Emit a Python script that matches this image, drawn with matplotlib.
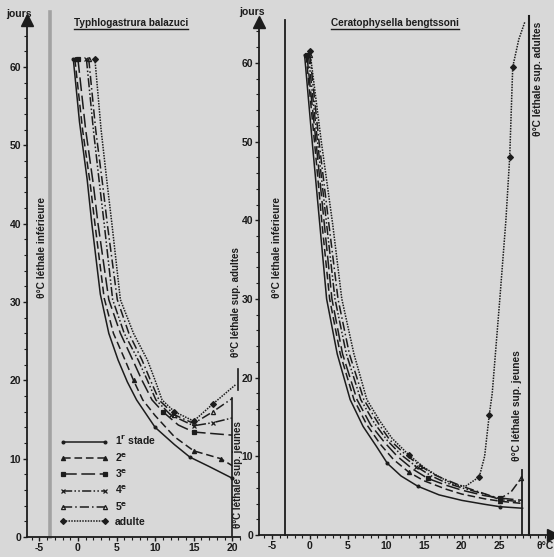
import matplotlib
matplotlib.use('Agg')
from matplotlib import pyplot as plt
from matplotlib.lines import Line2D
from matplotlib.ticker import MultipleLocator

plt.rcParams['font.family'] = ['Liberation Sans', 'DejaVu Sans']
plt.rcParams['font.weight'] = 'bold'
plt.rcParams['mathtext.default'] = 'bf'

W, H = 554, 557
BG = '#d8d8d8'
INK = '#1c1c1c'

stades = ['1$^{\\rm r}$ stade', '2$^{\\rm e}$', '3$^{\\rm e}$', '4$^{\\rm e}$', '5$^{\\rm e}$', 'adulte']

# Typhlogastrura balazuci : durée (jours) en fonction de la température (°C)
typh_t1 = [-0.6, 0.2, 1.2, 1.8, 2.9, 4.0, 5.2, 6.4, 7.6, 10.0, 12.5, 14.5, 17.0, 20.0]
typh_d1 = [61, 53, 45.6, 40, 31, 26, 22.6, 19.8, 17.5, 14.0, 11.8, 10.2, 9.0, 7.5]
typh_t2 = [-0.4, 0.6, 1.6, 2.2, 3.4, 4.6, 6.1, 7.2, 8.4, 10.0, 12.5, 15.0, 18.5, 20.0]
typh_d2 = [61, 52, 45, 40, 30.5, 26, 22.6, 20, 17.5, 15.5, 12.8, 11.0, 10.0, 9.1]
typh_t3 = [0.0, 1.0, 2.0, 2.6, 4.0, 5.5, 7.1, 8.3, 9.6, 11.0, 13.0, 15.0, 17.5, 20.0]
typh_d3 = [61, 52, 45, 40, 30.3, 26, 22.6, 20, 17.5, 16.0, 14.3, 13.4, 13.2, 13.0]
typh_t4 = [1.1, 2.0, 2.8, 3.4, 4.5, 6.0, 7.8, 9.0, 10.1, 12.0, 15.0, 17.5, 20.0]
typh_d4 = [61, 52, 45, 40, 30.3, 26, 22.6, 20, 17.5, 15.6, 14.2, 14.6, 15.2]
typh_t5 = [1.4, 2.3, 3.2, 3.8, 5.1, 6.6, 8.3, 9.4, 10.5, 12.5, 15.0, 17.5, 20.0]
typh_d5 = [61, 52, 45, 40, 30.3, 26, 22.6, 20, 17.5, 15.6, 14.5, 16.0, 17.7]
typh_ta = [2.2, 3.0, 3.8, 4.4, 5.5, 7.2, 9.0, 10.0, 10.9, 12.5, 15.0, 17.5, 20.5]
typh_da = [61, 52, 45, 40, 30.3, 26, 22.6, 20, 17.5, 16.0, 14.8, 17.0, 19.5]

# Ceratophysella bengtssoni
cera_t1 = [-0.7, 0.3, 1.3, 2.2, 3.6, 5.3, 7.0, 8.8, 10.2, 12.0, 14.2, 17.0, 20.0, 23.0, 25.0, 28.0]
cera_d1 = [61, 50, 39.5, 30, 23, 17.2, 13.8, 11.2, 9.1, 7.5, 6.2, 5.1, 4.4, 3.9, 3.6, 3.4]
cera_t2 = [-0.5, 0.6, 1.6, 2.6, 4.0, 5.8, 7.5, 9.3, 11.0, 13.0, 15.0, 18.0, 20.0, 23.0, 25.0, 28.0]
cera_d2 = [61, 50, 39.5, 30, 23, 17.2, 14, 11.5, 9.6, 8.0, 6.9, 5.8, 5.2, 4.6, 4.3, 4.0]
cera_t3 = [-0.4, 0.8, 1.9, 2.9, 4.3, 6.2, 8.0, 9.8, 11.5, 13.5, 15.5, 18.0, 20.0, 23.0, 25.0, 28.0]
cera_d3 = [61, 50, 39.5, 30, 23, 17.2, 14, 11.8, 10.0, 8.4, 7.2, 6.3, 5.7, 5.0, 4.7, 4.4]
cera_t4 = [-0.2, 1.0, 2.2, 3.3, 4.8, 6.7, 8.5, 10.2, 12.0, 14.0, 16.0, 18.0, 20.0, 23.0, 25.0, 28.0]
cera_d4 = [61, 50, 39.5, 30, 23, 17.2, 14.2, 12.0, 10.2, 8.7, 7.5, 6.6, 6.0, 5.2, 4.5, 4.2]
cera_t5 = [0.0, 1.2, 2.5, 3.7, 5.2, 7.1, 9.0, 10.5, 12.5, 14.5, 16.5, 18.5, 20.0, 22.5, 25.0, 26.5, 27.8]
cera_d5 = [61, 50, 39.5, 30, 23, 17.2, 14.2, 12.1, 10.3, 8.8, 7.6, 6.8, 6.2, 5.4, 4.6, 5.5, 7.2]
cera_ta = [0.0, 1.5, 3.0, 4.2, 5.8, 7.5, 9.2, 10.8, 13.0, 15.0, 17.0, 19.0, 20.5, 22.3, 23.0,
           23.6, 24.0, 25.0, 25.8, 26.3, 26.7, 27.5, 28.4]
cera_da = [61.5, 50, 39.5, 30, 23, 17.2, 14.5, 12.3, 10.2, 8.6, 7.4, 6.4, 6.2, 7.4, 10.0,
           15.2, 18.0, 30.0, 40.0, 48.0, 59.5, 63.0, 65.5]

styles = [
    dict(ls='-', marker='.', ms=4),
    dict(ls=(0, (5, 2.5)), marker='^', ms=3),
    dict(ls=(0, (9, 3)), marker='s', ms=2.5),
    dict(ls=(0, (6, 1.5, 1, 1.5, 1, 1.5)), marker='x', ms=3),
    dict(ls=(0, (6, 2, 1, 2)), marker='^', ms=3, mfc='none'),
    dict(ls=(0, (1, 0.8)), marker='D', ms=3),
]


def px_axes(fig, x0, x1, y0, y1):
    # rectangle given in pixels from the top-left corner
    return fig.add_axes([x0 / W, 1 - y1 / H, (x1 - x0) / W, (y1 - y0) / H])


def setup(ax, xlim, ylim, xticks, xlabels):
    ax.set_facecolor('none')
    ax.set_xlim(*xlim)
    ax.set_ylim(*ylim)
    for s in ['top', 'right']:
        ax.spines[s].set_visible(False)
    for s in ['left', 'bottom']:
        ax.spines[s].set_color(INK)
        ax.spines[s].set_linewidth(1.3)
    ax.set_xticks(xticks, xlabels)
    ax.set_yticks(list(range(0, 61, 10)))
    ax.xaxis.set_minor_locator(MultipleLocator(1))
    ax.yaxis.set_minor_locator(MultipleLocator(2))
    ax.tick_params(which='major', length=3.2, width=1, color=INK, labelsize=7.5, labelcolor=INK, pad=1.2)
    ax.tick_params(which='minor', length=2.2, width=0.8, color=INK)
    ax.plot(0, 1, marker='^', ms=8, color=INK, transform=ax.transAxes, clip_on=False)


def curves(ax, data, marks):
    for (t, d), st, mk in zip(data, styles, marks):
        ax.plot(t, d, color=INK, lw=1.1, ls=st['ls'])
        ax.plot([t[i] for i in mk], [d[i] for i in mk], ls='none', color=INK,
                marker=st['marker'], ms=st['ms'], mfc=st.get('mfc', INK), mew=0.9)


def vtext(ax, x, y, s, size=7.3):
    ax.text(x, y, s, rotation=90, ha='center', va='center', fontsize=size, color=INK)


def ptext(x, y, s, size):
    return fig.text(x / W, 1 - y / H, s, ha='center', va='center', fontsize=size, color=INK)


fig = plt.figure(figsize=(W / 100, H / 100), dpi=100, facecolor=BG)

# panneau gauche
ax1 = px_axes(fig, 27, 240, 20, 537)
setup(ax1, (-6.6, 21.0), (0, 66), list(range(-5, 21, 5)), [str(v) for v in range(-5, 21, 5)])
curves(ax1, [(typh_t1, typh_d1), (typh_t2, typh_d2), (typh_t3, typh_d3),
             (typh_t4, typh_d4), (typh_t5, typh_d5), (typh_ta, typh_da)],
       [[0, 9, 11, 13], [0, 7, 11, 12], [0, 9, 11], [0, 9, 10, 11], [0, 9, 10, 11], [0, 9, 10, 11]])
ax1.plot([-3.6, -3.6], [0, 67], color='#a2a2a2', lw=2.6, clip_on=False)
vtext(ax1, -4.6, 37, 'θ°C léthale inférieure')
ax1.plot([20, 20], [0, 17.8], color=INK, lw=1.2)
ax1.plot([20.8, 20.8], [18.8, 21.5], color=INK, lw=1.2, clip_on=False)
vtext(ax1, 20.45, 30, 'θ°C léthale sup. adultes', 7.0)
vtext(ax1, 20.7, 8.0, 'θ°C léthale sup. jeunes', 7.0)

handles = [Line2D([], [], color=INK, lw=1.1, ls=st['ls'], marker=st['marker'], ms=st['ms'],
                  mfc=st.get('mfc', INK), mew=0.9, markevery=[0]) for st in styles]
ax1.legend(handles, stades, loc='lower left', bbox_to_anchor=(0.155, 0.02), frameon=False,
           numpoints=2, handlelength=4.6, handletextpad=0.65, labelspacing=0.38,
           borderpad=0, borderaxespad=0, fontsize=7.5, labelcolor=INK)

ptext(19, 14, 'jours', 7.5)
t1 = ptext(131, 23, 'Typhlogastrura balazuci', 7.2)

# panneau droit
ax2 = px_axes(fig, 259, 553, 22, 535)
setup(ax2, (-6.7, 32), (0, 65.2), list(range(-5, 26, 5)) + [30.9],
      [str(v) for v in range(-5, 26, 5)] + ['θ°C'])
ax2.xaxis.get_major_ticks()[-1].tick1line.set_visible(False)
ax2.plot(1, 0, marker='>', ms=8, color=INK, transform=ax2.transAxes, clip_on=False)
curves(ax2, [(cera_t1, cera_d1), (cera_t2, cera_d2), (cera_t3, cera_d3),
             (cera_t4, cera_d4), (cera_t5, cera_d5), (cera_ta, cera_da)],
       [[0, 8, 10, 14], [0, 9, 14], [0, 10, 14], [0, 9, 14], [0, 9, 14, 16], [0, 8, 13, 15, 19, 20]])
ax2.plot([-3.3, -3.3], [0, 65.5], color=INK, lw=1.3, clip_on=False)
vtext(ax2, -4.3, 36.5, 'θ°C léthale inférieure')
ax2.plot([27.9, 27.9], [0, 8.3], color=INK, lw=1.3)
vtext(ax2, 27.2, 16.5, 'θ°C léthale sup. jeunes')
ax2.plot([28.8, 28.8], [0, 66], color=INK, lw=1.5, clip_on=False)
vtext(ax2, 30.0, 58, 'θ°C léthale sup. adultes')

ptext(252, 12, 'jours', 7.5)
t2 = ptext(395, 23, 'Ceratophysella bengtssoni', 7.2)

# soulignement des titres
fig.canvas.draw()
for t in (t1, t2):
    bb = t.get_window_extent()
    fig.add_artist(Line2D([bb.x0 / W, bb.x1 / W], [(bb.y0 - 1) / H] * 2, color=INK, lw=1.0))

fig.savefig('out.png', dpi=100, facecolor=BG)
